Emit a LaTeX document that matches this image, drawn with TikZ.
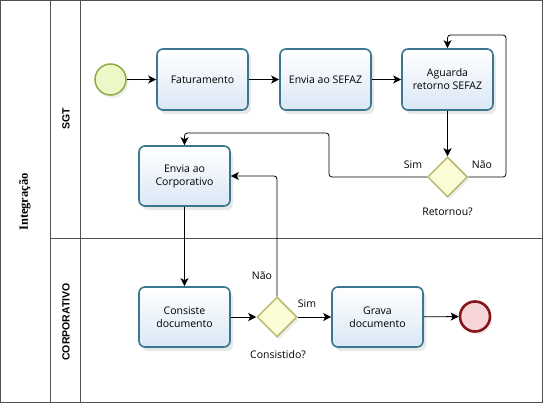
\documentclass[tikz,border=0pt]{standalone}
\usepackage{fontspec}
\setmainfont{Open Sans}
\newfontfamily\lblfont{Liberation Serif}
\newfontfamily\lanefont{Liberation Sans}
\usetikzlibrary{shapes.geometric,arrows.meta,shadows}
\definecolor{taskborder}{RGB}{58,118,142}
\definecolor{taskfill}{RGB}{218,231,245}
\definecolor{startborder}{RGB}{140,172,70}
\definecolor{startfill}{RGB}{238,247,198}
\definecolor{gwborder}{RGB}{184,184,110}
\definecolor{gwfill}{RGB}{252,252,214}
\definecolor{endborder}{RGB}{135,22,26}
\definecolor{endfill}{RGB}{246,214,216}
\definecolor{laneline}{RGB}{80,80,80}
\tikzset{
  task/.style={rectangle, rounded corners=6pt, draw=taskborder, line width=1.6pt,
    top color=white, bottom color=taskfill, minimum width=91pt, minimum height=61pt,
    align=center, font=\fontsize{10.5}{13}\selectfont, inner sep=2pt,
    drop shadow={opacity=0.18, shadow xshift=3pt, shadow yshift=-4pt}},
  startev/.style={circle, draw=startborder, line width=1.5pt, fill=startfill,
    minimum size=31pt, inner sep=0pt,
    drop shadow={opacity=0.12, shadow xshift=2pt, shadow yshift=-3pt}},
  endev/.style={circle, draw=endborder, line width=2.6pt, fill=endfill,
    minimum size=30pt, inner sep=0pt,
    drop shadow={opacity=0.12, shadow xshift=2pt, shadow yshift=-3pt}},
  gw/.style={diamond, draw=gwborder, line width=1.5pt, fill=gwfill,
    minimum width=40pt, minimum height=40pt, inner sep=0pt, aspect=1,
    drop shadow={opacity=0.12, shadow xshift=2pt, shadow yshift=-3pt}},
  flow/.style={draw=black, line width=0.8pt, rounded corners=3pt,
    -{Stealth[length=8pt,width=8pt,inset=2pt]}},
  lbl/.style={font=\fontsize{10.5}{13}\selectfont, inner sep=0pt},
  lanelbl/.style={font=\lanefont\bfseries\fontsize{10.5}{13}\selectfont, rotate=90, inner sep=0pt},
  poollbl/.style={font=\lblfont\bfseries\fontsize{12.5}{14}\selectfont, rotate=90, inner sep=0pt},
}
\begin{document}
\begin{tikzpicture}[x=1pt,y=-1pt]
\useasboundingbox (0,0) rectangle (544,404);
\fill[white] (0,0) rectangle (544,404);
% pool and lanes
\draw[laneline, line width=1pt] (0.5,0.5) rectangle (542.5,402.5);
\draw[laneline, line width=0.9pt] (50,0.5) -- (50,402.5);
\draw[laneline, line width=0.9pt] (80.5,0.5) -- (80.5,402.5);
\draw[laneline, line width=0.9pt] (50,238) -- (542.5,238);
\node[poollbl] (pool) at (25,202) {Integração};
\node[lanelbl] (sgt) at (66,119) {SGT};
\node[lanelbl] (corp) at (66,322) {CORPORATIVO};
% nodes
\node[startev] (start) at (110.5,79.5) {};
\node[task] (fat) at (202.5,79.5) {Faturamento};
\node[task] (sefaz) at (325.5,79.5) {Envia ao SEFAZ};
\node[task] (agu) at (447.5,79.5) {Aguarda\\retorno SEFAZ};
\node[gw] (ret) at (447.5,177) {};
\node[task, minimum height=60pt] (envc) at (184.5,176) {Envia ao\\Corporativo};
\node[task, minimum height=60pt] (cons) at (184.5,317) {Consiste\\documento};
\node[gw] (gcons) at (277,317) {};
\node[task, minimum height=60pt] (grava) at (377.5,317) {Grava\\documento};
\node[endev] (fim) at (475,316.5) {};
% labels
\node[lbl] (lsim1) at (413,165) {Sim};
\node[lbl] (lnao1) at (482,165) {Não};
\node[lbl] (lret) at (447.5,212) {Retornou?};
\node[lbl] (lnao2) at (262,276) {Não};
\node[lbl] (lsim2) at (307,304) {Sim};
\node[lbl] (lcons) at (278,355) {Consistido?};
% waypoints
\coordinate (r1) at (506,177);
\coordinate (r2) at (506,35);
\coordinate (r3) at (447.5,35);
\coordinate (s1) at (329,177);
\coordinate (s2) at (329,133);
\coordinate (s3) at (184.5,133);
% connectors
\draw[flow] (start) -- (fat);
\draw[flow] (fat) -- (sefaz);
\draw[flow] (sefaz) -- (agu);
\draw[flow] (agu) -- (ret);
\draw[flow] (ret.east) -- (r1) -- (r2) -- (r3) -- (agu.north);
\draw[flow] (ret.west) -- (s1) -- (s2) -- (s3) -- (envc.north);
\draw[flow] (envc) -- (cons);
\draw[flow] (cons) -- (gcons);
\draw[flow] (gcons.north) |- (envc.east);
\draw[flow] (gcons) -- (grava);
\draw[flow] (grava) -- (fim);
\end{tikzpicture}
\end{document}
